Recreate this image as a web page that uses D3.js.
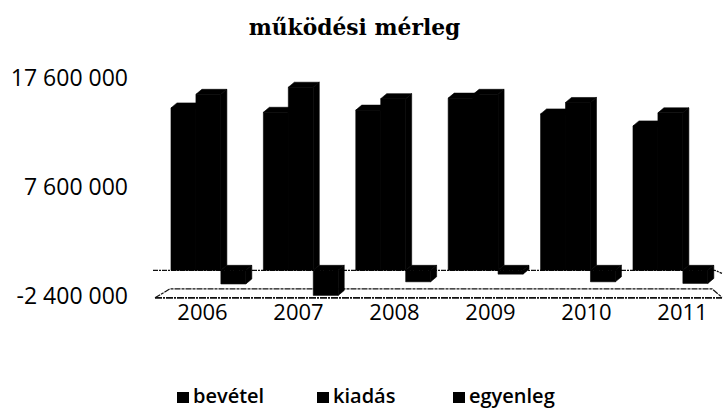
<!DOCTYPE html>
<html>
<head>
<meta charset="utf-8">
<script src="https://cdn.jsdelivr.net/npm/d3@7"></script>
<style>
  html, body { margin: 0; padding: 0; background: #fff; }
  svg { display: block; }
</style>
</head>
<body>
<svg id="chart" width="725" height="420"></svg>
<script>
// Operating balance by year (HUF)
const years = ["2006", "2007", "2008", "2009", "2010", "2011"];
const seriesNames = ["bevétel", "kiadás", "egyenleg"];
const bevetel  = [14900000, 14500000, 14700000, 15800000, 14350000, 13250000];
const kiadas   = [16150000, 16800000, 15750000, 16150000, 15400000, 14450000];
const egyenleg = [-1250000, -2300000, -1050000, -350000, -1050000, -1200000];
const yTicks = [17600000, 7600000, -2400000];
const title = "működési mérleg";

const seriesValues = [bevetel, kiadas, egyenleg];

const svg = d3.select("#chart");

// vertical scale shared by the bars and the value axis
const y = d3.scaleLinear().domain([-2400000, 17600000]).range([296.5, 78.5]);

// bars sit on the back of the floor, the year labels on its front edge
const xBack = d3.scaleBand().domain(years).range([162.2, 716.6])
  .paddingInner(0.19).paddingOuter(0.095);
const xFront = d3.scaleBand().domain(years).range([154.5, 730.5]);
const xSeries = d3.scaleBand().domain(seriesNames).range([0, xBack.bandwidth()]);

const depthX = 6, depthY = 5;
// thousands separated by spaces, plain hyphen for the sign
const fmt = v => d3.format(",")(v).replace(/,/g, " ").replace("\u2212", "-");

// title
svg.append("text")
  .attr("x", 354.5).attr("y", 35)
  .attr("text-anchor", "middle")
  .attr("font-family", "DejaVu Serif")
  .attr("font-weight", "bold")
  .attr("font-size", 21.8)
  .text(title);

// value axis labels (no axis line)
const yAxis = d3.axisLeft(y).tickValues(yTicks).tickSize(0).tickPadding(0).tickFormat(fmt);
const yG = svg.append("g").attr("transform", "translate(128,0)").call(yAxis);
yG.select(".domain").remove();
yG.selectAll("text")
  .attr("font-family", "Open Sans")
  .attr("font-size", 23)
  .attr("fill", "#000");

// floor: back edge at zero and a double front edge
const y0 = y(0);
const floor = svg.append("g").attr("fill", "none").attr("stroke", "#111");
floor.append("path")
  .attr("d", `M153,${y0} L715,${y0} L722,${y0 + 3}`)
  .attr("stroke-width", 1.3).attr("stroke-dasharray", "5,1,2,1");
floor.append("path")
  .attr("d", `M155,${y0 + 27.5} L170,${y0 + 18.5} L712,${y0 + 18.5} L722,${y0 + 27}`)
  .attr("stroke-width", 1.2).attr("stroke-dasharray", "6,1,3,1");
floor.append("path")
  .attr("d", `M155,${y0 + 27.5} L722,${y0 + 27.5}`)
  .attr("stroke-width", 1.6).attr("stroke-dasharray", "7,1,2,1");

// 3D columns: front face, top face and right side face
const bars = [];
years.forEach((yr, i) => {
  seriesNames.forEach((s, j) => {
    bars.push({ year: yr, series: s, value: seriesValues[j][i] });
  });
});

const barG = svg.append("g").attr("fill", "#000").attr("stroke", "#000")
  .attr("stroke-width", 0.6).attr("stroke-linejoin", "round");
bars.forEach(d => {
  const x = xBack(d.year) + xSeries(d.series);
  const w = xSeries.bandwidth();
  const yTop = y(Math.max(0, d.value));
  const yBot = y(Math.min(0, d.value));
  barG.append("rect").attr("x", x).attr("y", yTop).attr("width", w).attr("height", yBot - yTop);
  barG.append("path").attr("d",
    `M${x},${yTop} L${x + depthX},${yTop - depthY} L${x + w + depthX},${yTop - depthY} L${x + w},${yTop} Z`);
  barG.append("path").attr("d",
    `M${x + w},${yTop} L${x + w + depthX},${yTop - depthY} L${x + w + depthX},${yBot - depthY} L${x + w},${yBot} Z`);
});

// category labels along the front edge
const xAxis = d3.axisBottom(xFront).tickSize(0).tickPadding(0);
const xG = svg.append("g").attr("transform", "translate(0,304)").call(xAxis);
xG.select(".domain").remove();
xG.selectAll("text")
  .attr("font-family", "Open Sans")
  .attr("font-size", 22)
  .attr("fill", "#000");

// legend
const legendX = [177, 317, 453];
const legend = svg.append("g");
seriesNames.forEach((s, j) => {
  const g = legend.append("g").attr("transform", `translate(${legendX[j]},392)`);
  g.append("rect").attr("width", 12).attr("height", 11).attr("fill", "#000");
  g.append("text").attr("x", 16).attr("y", 11)
    .attr("font-family", "Open Sans")
    .attr("font-weight", 600)
    .attr("font-size", 20)
    .attr("fill", "#000")
    .text(s);
});
</script>
</body>
</html>
